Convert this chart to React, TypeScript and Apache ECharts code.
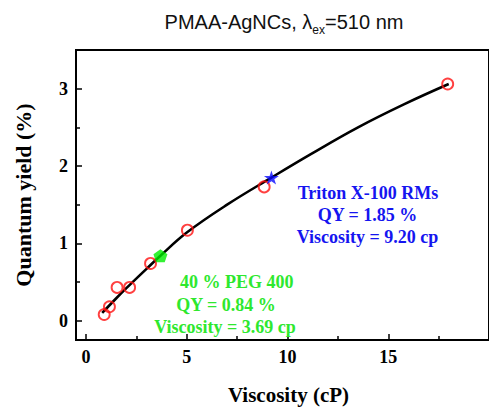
import React, { useEffect, useRef } from "react";
import * as echarts from "echarts";

// Measured samples: viscosity (cP) vs quantum yield (%)
const sampleViscosity = [0.9, 1.16, 1.54, 2.16, 3.2, 5.03, 8.84, 17.95];
const sampleQY = [0.08, 0.18, 0.43, 0.43, 0.74, 1.17, 1.73, 3.06];

// Fitted trend curve
const curveViscosity = [0.8, 1.5, 2.0, 3.0, 3.69, 5.0, 7.0, 9.2, 11.2, 13.5, 15.8, 18.0];
const curveQY = [0.1, 0.29, 0.42, 0.67, 0.84, 1.14, 1.5, 1.85, 2.16, 2.5, 2.8, 3.06];

// Highlighted systems
const pegPoint = [3.69, 0.84];
const tritonPoint = [9.2, 1.85];

const xMajorTicks = [0, 5, 10, 15];
const xMinorTicks = [2.5, 7.5, 12.5, 17.5];
const yMajorTicks = [0, 1, 2, 3];
const yMinorTicks = [0.5, 1.5, 2.5];

const pegLines = ["40 % PEG 400", "QY = 0.84 %", "Viscosity = 3.69 cp"];
const tritonLines = ["Triton X-100 RMs", "QY = 1.85 %", "Viscosity = 9.20 cp"];

const SERIF = '"Liberation Serif", "Times New Roman", serif';
const SANS = '"Liberation Sans", Arial, sans-serif';
const GREEN = "#2ee82e";
const BLUE = "#1515f0";

const PENTAGON = "path://M50,0 L97.6,34.5 L79.4,90.5 L20.6,90.5 L2.4,34.5 Z";
const STAR =
  "path://M50,0 L61.8,35.1 L98.9,35.1 L69,57 L80.3,92.1 L50,70.5 L19.7,92.1 L31,57 L1.1,35.1 L38.2,35.1 Z";

export default function App() {
  const ref = useRef<HTMLDivElement>(null);

  useEffect(() => {
    if (!ref.current) return;
    const chart = echarts.init(ref.current, null, { renderer: "svg" });

    const labelStyle = {
      fontFamily: SERIF,
      fontWeight: "bold" as const,
      fontSize: 18,
      color: "#000",
    };

    const annot = (lines: string[], xs: number[], ys: number[], color: string) =>
      lines.map((t, i) => ({
        type: "text",
        x: xs[i],
        y: ys[i],
        style: {
          text: t,
          fill: color,
          font: `bold 18px ${SERIF}`,
          textAlign: "center",
          textVerticalAlign: "middle",
        },
        z: 10,
      }));

    const tickStyle = { width: 1.5, color: "#000" };

    chart.setOption({
      animation: false,
      backgroundColor: "#fff",
      title: {
        text: "{a|PMAA-AgNCs, λ}{b|ex}{a|=510 nm}",
        left: 284,
        top: 8,
        padding: 0,
        textAlign: "center",
        textStyle: {
          fontWeight: "normal",
          rich: {
            a: { fontFamily: SANS, fontWeight: "normal", fontSize: 20, color: "#111", lineHeight: 28, verticalAlign: "middle" },
            b: { fontFamily: SANS, fontWeight: "normal", fontSize: 12, color: "#111", lineHeight: 14, verticalAlign: "bottom" },
          },
        },
      },
      grid: {
        left: 76,
        top: 50,
        width: 444,
        height: 298,
        show: true,
        borderColor: "#000",
        borderWidth: 2,
        containLabel: false,
      },
      xAxis: [
        {
          type: "value",
          min: -0.5,
          max: 20,
          position: "bottom",
          axisLine: { show: true, onZero: false, lineStyle: { color: "#000", width: 2 } },
          axisTick: { show: true, inside: true, length: 6, lineStyle: tickStyle, customValues: xMajorTicks },
          axisLabel: { ...labelStyle, margin: 8, customValues: xMajorTicks },
          splitLine: { show: false },
          name: "Viscosity (cP)",
          nameLocation: "middle",
          nameGap: 44,
          nameTextStyle: { fontFamily: SERIF, fontWeight: "bold", fontSize: 21, color: "#000", padding: [0, 0, 0, 12] },
        },
        {
          type: "value",
          min: -0.5,
          max: 20,
          position: "bottom",
          axisLine: { show: false, onZero: false },
          axisTick: { show: true, inside: true, length: 4, lineStyle: tickStyle, customValues: xMinorTicks },
          axisLabel: { show: false },
          splitLine: { show: false },
        },
      ],
      yAxis: [
        {
          type: "value",
          min: -0.25,
          max: 3.5,
          position: "left",
          axisLine: { show: true, onZero: false, lineStyle: { color: "#000", width: 2 } },
          axisTick: { show: true, inside: true, length: 6, lineStyle: tickStyle, customValues: yMajorTicks },
          axisLabel: { ...labelStyle, margin: 8, customValues: yMajorTicks },
          splitLine: { show: false },
          name: "Quantum yield (%)",
          nameLocation: "middle",
          nameGap: 42,
          nameTextStyle: { fontFamily: SERIF, fontWeight: "bold", fontSize: 22, color: "#000" },
        },
        {
          type: "value",
          min: -0.25,
          max: 3.5,
          position: "left",
          axisLine: { show: false, onZero: false },
          axisTick: { show: true, inside: true, length: 4, lineStyle: tickStyle, customValues: yMinorTicks },
          axisLabel: { show: false },
          splitLine: { show: false },
        },
      ],
      series: [
        {
          type: "line",
          xAxisIndex: 0,
          yAxisIndex: 0,
          smooth: 0.4,
          showSymbol: false,
          lineStyle: { color: "#000", width: 2.6 },
          data: curveViscosity.map((v, i) => [v, curveQY[i]]),
          z: 2,
        },
        {
          type: "scatter",
          xAxisIndex: 0,
          yAxisIndex: 0,
          symbol: "circle",
          symbolSize: 11,
          itemStyle: { color: "rgba(0,0,0,0)", borderColor: "#ff1010", borderWidth: 1.9 },
          data: sampleViscosity.map((v, i) => [v, sampleQY[i]]),
          z: 3,
        },
        {
          type: "scatter",
          xAxisIndex: 0,
          yAxisIndex: 0,
          symbol: PENTAGON,
          symbolSize: [14, 13],
          itemStyle: { color: "#00ee00" },
          data: [pegPoint],
          z: 4,
        },
        {
          type: "scatter",
          xAxisIndex: 0,
          yAxisIndex: 0,
          symbol: STAR,
          symbolSize: [15, 14],
          itemStyle: { color: "#0a0aff" },
          data: [tritonPoint],
          z: 4,
        },
      ],
      graphic: [
        ...annot(pegLines, [236.7, 226, 225], [281.7, 304.5, 326.7], GREEN),
        ...annot(tritonLines, [368, 367.5, 367.5], [193, 215, 237], BLUE),
      ],
    });

    return () => chart.dispose();
  }, []);

  return (
    <div
      ref={ref}
      style={{ position: "fixed", left: 0, top: 0, width: 489, height: 410, overflow: "hidden" }}
    />
  );
}
